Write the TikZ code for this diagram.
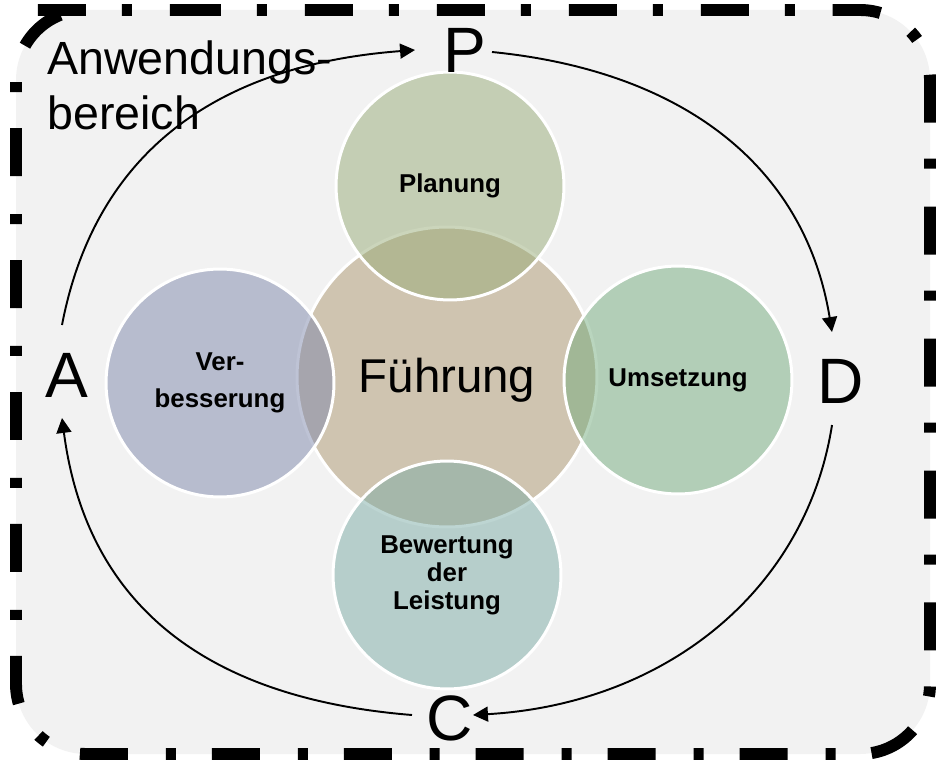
\documentclass[tikz,border=0pt]{standalone}
\usepackage{fontspec}
\setmainfont{Liberation Sans}
\usetikzlibrary{calc,arrows.meta}
\definecolor{bggray}{RGB}{242,242,242}
\definecolor{chub}{RGB}{207,196,176}
\definecolor{cplan}{RGB}{152,172,120}
\definecolor{cver}{RGB}{126,136,172}
\definecolor{cums}{RGB}{116,172,126}
\definecolor{cbew}{RGB}{124,172,166}
\begin{document}
\begin{tikzpicture}[x=0.02cm,y=-0.02cm,
  hub/.style={circle, inner sep=0pt, minimum size=6cm, draw=white, line width=1.7pt, fill=chub, text height=19.7pt, text depth=1.5pt, font=\fontsize{27}{32}\selectfont},
  sat/.style={circle, inner sep=0pt, minimum size=4.56cm, draw=white, line width=1.7pt, fill opacity=0.5, text opacity=1, align=center, font=\bfseries\fontsize{14.7}{15.9}\selectfont},
  letter/.style={inner sep=0pt, anchor=base, font=\fontsize{36.5}{40}\selectfont},
  area/.style={inner sep=0pt, anchor=north west, align=left, font=\fontsize{26.5}{31.7}\selectfont},
  arr/.style={line width=1.1pt, -{Triangle[length=8.5pt,width=8.5pt]}},
  frame/.style={line width=6.8pt, dash pattern=on 27.3pt off 20.5pt on 5.7pt off 21.6pt, rounded corners=1.4cm}
]
\useasboundingbox (0,0) rectangle (942,763);
\path[fill=bggray, rounded corners=1.4cm] (16,10) rectangle (930,754);
\draw[frame] (103,10) -- (930,10) -- (930,754) -- (16,754) -- (16,10) -- cycle;

\node[hub] (F) at (447,377) {Führung};
\node[sat, fill=cplan] (PL) at (450,186) {Planung};
\node[sat, fill=cums] (UM) at (678,380) {Umsetzung};
\node[sat, fill=cbew] (BE) at (447,575) {Bewertung\\der\\Leistung};
\node[sat, fill=cver, font=\bfseries\fontsize{14.7}{21}\selectfont] (VE) at (220,383) {Ver-\\besserung};

\node[area] (AB) at (47,40) {Anwendungs-\\bereich};

\node[letter] (P) at (465,73) {P};
\node[letter] (D) at (841,403) {D};
\node[letter] (C) at (450,740) {C};
\node[letter] (A) at (67,397) {A};

\draw[arr] ($(P.base)+(27,-21)$) .. controls ($(P.base)+(218,-2)$) and ($(D.base)+(-36,-237)$) .. ($(D.base)+(-9,-71)$);
\draw[arr] ($(D.base)+(-9,22)$) .. controls ($(D.base)+(-35,188)$) and ($(C.base)+(215,-36)$) .. ($(C.base)+(23,-25)$);
\draw[arr] ($(C.base)+(-38,-25)$) .. controls ($(C.base)+(-249,-42)$) and ($(A.base)+(19,204)$) .. ($(A.base)+(-5,21)$);
\draw[arr] ($(A.base)+(-5,-72)$) .. controls ($(A.base)+(28,-244)$) and ($(P.base)+(-249,-8)$) .. ($(P.base)+(-50,-23)$);
\end{tikzpicture}
\end{document}
